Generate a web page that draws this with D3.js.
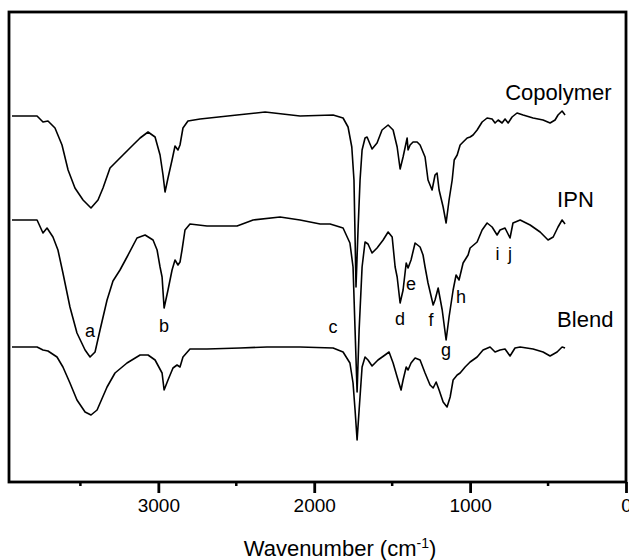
<!DOCTYPE html>
<head>
	<meta charset="utf-8">
	<!-- Load d3.js -->
	<script src="https://d3js.org/d3.v7.min.js"></script>
	<style>
		body { margin: 0; background: #fff; }
		text { font-family: "Liberation Sans", Arial, sans-serif; fill: #000; }
	</style>
</head>
<body>
	<div id="ftir"></div>
	<script>

	// spectra: [wavenumber cm-1, stacked transmittance a.u.]
	var copolymer = [
		[3939,73.2],[3778,73.2],[3740,72.0],[3708,72.2],[3663,70.8],[3618,67.4],[3579,62.4],[3535,58.8],
		[3483,56.4],[3432,54.8],[3387,56.4],[3355,58.8],[3310,62.8],[3259,64.4],[3182,66.8],[3117,68.8],
		[3066,70.0],[3021,69.0],[2989,65.4],[2970,61.4],[2957,58.0],[2938,60.8],[2912,64.4],[2893,67.2],
		[2874,66.4],[2861,67.4],[2842,70.8],[2810,72.2],[2732,72.6],[2495,73.4],[2315,74.0],[2091,73.2],
		[1879,73.4],[1815,72.8],[1783,71.0],[1759,67.0],[1745,60.4],[1732,39.0],[1719,50.4],[1706,60.4],
		[1693,66.4],[1674,68.8],[1661,69.0],[1629,66.6],[1597,67.8],[1565,70.4],[1526,71.4],[1494,70.4],
		[1468,67.0],[1449,62.6],[1430,65.0],[1404,68.8],[1398,66.4],[1385,67.4],[1366,68.0],[1340,68.0],
		[1321,67.4],[1289,65.0],[1270,60.4],[1244,58.4],[1225,61.4],[1212,61.8],[1199,58.4],[1173,55.0],
		[1154,51.8],[1135,56.4],[1115,60.4],[1102,64.4],[1083,65.4],[1064,67.4],[1045,68.0],[1019,68.8],
		[1000,69.0],[981,69.4],[955,70.4],[923,72.0],[891,72.8],[859,72.6],[840,71.8],[820,72.4],
		[795,71.8],[776,72.6],[756,71.8],[731,73.0],[699,73.8],[660,73.4],[596,72.8],[532,72.4],
		[487,71.8],[455,72.4],[436,73.4],[410,74.2],[391,73.4]
	];

	var ipn = [
		[3939,52.4],[3778,52.4],[3740,49.8],[3714,50.8],[3676,49.0],[3644,46.4],[3612,41.8],[3567,35.0],
		[3522,29.8],[3470,26.4],[3438,25.0],[3406,26.0],[3374,30.4],[3329,36.4],[3291,40.2],[3246,42.4],
		[3201,45.0],[3137,48.8],[3085,49.4],[3034,48.4],[3008,46.4],[2989,43.0],[2976,41.0],[2963,34.8],
		[2938,38.4],[2912,42.4],[2893,44.4],[2874,43.4],[2861,44.0],[2848,46.4],[2829,50.4],[2797,51.6],
		[2688,51.2],[2495,51.2],[2392,52.4],[2219,53.0],[2091,52.4],[1962,51.6],[1898,51.6],[1815,50.8],
		[1771,47.8],[1751,43.0],[1738,30.4],[1725,18.0],[1712,30.4],[1693,43.0],[1674,48.0],[1655,47.6],
		[1629,45.8],[1597,46.8],[1558,48.4],[1526,50.0],[1500,49.0],[1481,43.0],[1468,41.0],[1449,35.8],
		[1430,38.4],[1410,43.8],[1398,42.8],[1379,44.4],[1353,47.8],[1321,47.0],[1302,45.4],[1289,43.0],
		[1270,39.8],[1237,35.4],[1225,36.4],[1205,38.8],[1179,34.4],[1154,28.4],[1135,33.0],[1109,38.4],
		[1090,41.4],[1071,40.4],[1045,43.8],[1013,45.4],[1000,46.8],[955,48.0],[923,50.4],[891,51.8],
		[859,51.0],[827,49.4],[808,50.4],[776,50.8],[744,48.8],[725,51.8],[679,52.4],[615,51.4],
		[551,50.0],[500,48.4],[467,49.0],[436,51.0],[410,52.4],[391,51.6]
	];

	var blend = [
		[3939,27.0],[3778,27.0],[3740,26.4],[3708,26.2],[3650,25.0],[3612,23.0],[3567,19.8],[3522,16.4],
		[3470,14.0],[3432,13.4],[3393,14.4],[3329,19.0],[3278,21.8],[3201,23.8],[3117,25.4],[3066,25.4],
		[3021,24.4],[2976,21.8],[2963,18.4],[2938,20.4],[2906,22.8],[2880,23.4],[2861,23.0],[2842,25.0],
		[2797,26.6],[2688,26.6],[2476,26.8],[2303,27.0],[2091,27.0],[1879,26.8],[1815,26.0],[1771,23.8],
		[1751,19.8],[1738,14.4],[1725,8.4],[1712,14.4],[1693,23.0],[1674,25.0],[1655,24.4],[1629,23.2],
		[1591,24.4],[1546,25.4],[1520,26.0],[1494,23.8],[1468,21.0],[1443,18.4],[1430,20.4],[1410,23.0],
		[1398,22.4],[1379,23.8],[1353,24.8],[1321,24.4],[1289,21.8],[1257,19.4],[1237,18.8],[1218,20.0],
		[1199,18.4],[1173,16.0],[1148,15.0],[1128,17.0],[1109,20.4],[1083,21.4],[1064,21.8],[1032,23.0],
		[1000,24.0],[955,25.0],[917,26.4],[872,27.0],[840,26.0],[808,26.4],[776,26.6],[744,25.2],
		[712,26.8],[679,27.0],[596,26.6],[532,26.0],[487,25.2],[442,26.0],[410,27.0],[391,26.8]
	];

	// series names and where their labels sit [wavenumber, value]
	var seriesNames = ["Copolymer", "IPN", "Blend"];
	var seriesLabelAt = [[775, 76.4], [442, 55.0], [442, 31.0]];

	// band letters [letter, wavenumber, value]
	var bands = [
		["a", 3438, 29.0], ["b", 2963, 30.0], ["c", 1879, 29.8], ["d", 1449, 31.4],
		["e", 1379, 38.4], ["f", 1251, 31.2], ["g", 1154, 25.2], ["h", 1058, 35.8],
		["i", 824, 44.4], ["j", 744, 44.4]
	];

	var majorTicks = [3000, 2000, 1000, 0];
	var minorTicks = [3500, 2500, 1500, 500];

	var width = 629,
	height = 560;

	var margin = {left: 9, right: 3, top: 12, bottom: 78};

	var svg = d3.select("#ftir").append("svg")
	  .attr("width", width)
	  .attr("height", height);

	// wavenumber runs right to left
	var x = d3.scaleLinear()
		.domain([3958, 0])
		.range([margin.left, width - margin.right]);

	var y = d3.scaleLinear()
		.domain([0, 94])
		.range([height - margin.bottom, margin.top]);

	var line = d3.line()
		.x(d => x(d[0]))
		.y(d => y(d[1]));

	// spectra
	svg.append("g")
		.selectAll("path")
		.data([copolymer, ipn, blend])
		.join("path")
		  .attr("d", line)
		  .attr("fill", "none")
		  .attr("stroke", "#000")
		  .attr("stroke-width", 1.6)
		  .attr("stroke-linejoin", "round");

	// frame
	svg.append("rect")
		.attr("x", margin.left)
		.attr("y", margin.top)
		.attr("width", width - margin.right - margin.left)
		.attr("height", height - margin.bottom - margin.top)
		.attr("fill", "none")
		.attr("stroke", "#000")
		.attr("stroke-width", 2.8);

	// x axis
	var xAxis = svg.append("g")
		.attr("transform", "translate(0," + (height - margin.bottom) + ")")
		.call(d3.axisBottom(x).tickValues(majorTicks).tickSize(11).tickPadding(6).tickFormat(d3.format("d")));
	xAxis.select(".domain").remove();
	xAxis.selectAll(".tick line").attr("stroke-width", 2.8);
	xAxis.selectAll(".tick text")
		.style("font-size", "19px")
		.style("font-family", "'Liberation Sans', Arial, sans-serif");

	svg.append("g")
		.selectAll("line")
		.data(minorTicks)
		.join("line")
		  .attr("x1", d => x(d))
		  .attr("x2", d => x(d))
		  .attr("y1", height - margin.bottom)
		  .attr("y2", height - margin.bottom + 4)
		  .attr("stroke", "#000")
		  .attr("stroke-width", 2.5);

	// axis title
	var title = svg.append("text")
		.attr("x", 340)
		.attr("y", 556)
		.attr("text-anchor", "middle")
		.style("font-size", "22px");
	title.append("tspan").text("Wavenumber (cm");
	title.append("tspan").attr("dy", -8).style("font-size", "14px").text("-1");
	title.append("tspan").attr("dy", 8).text(")");

	// series labels
	svg.append("g")
		.selectAll("text")
		.data(seriesNames)
		.join("text")
		  .attr("x", (d, i) => x(seriesLabelAt[i][0]))
		  .attr("y", (d, i) => y(seriesLabelAt[i][1]))
		  .style("font-size", "22px")
		  .text(d => d);

	// band letters
	svg.append("g")
		.selectAll("text")
		.data(bands)
		.join("text")
		  .attr("x", d => x(d[1]))
		  .attr("y", d => y(d[2]))
		  .attr("text-anchor", "middle")
		  .style("font-size", "18px")
		  .text(d => d[0]);

</script>
</body>
</html>
